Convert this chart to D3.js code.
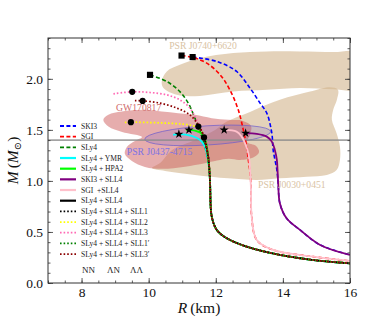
<!DOCTYPE html>
<html>
<head>
<meta charset="utf-8">
<script src="https://cdn.jsdelivr.net/npm/d3@7/dist/d3.min.js"></script>
<style>
    body { margin: 0; background: #fff; }
    svg text { font-family: "Liberation Serif", "DejaVu Serif", serif; }
</style>
</head>
<body>
<script>
// ---- axis ticks ----
var xTicks = [ 8, 10, 12, 14, 16 ];
var yTicks = [ 0.0, 0.5, 1.0, 1.5, 2.0 ];

// ---- M-R curves (R in km, M in Msun) ----
var ski3R = [ 11.31, 12.03, 12.62, 13.02, 13.32, 13.52, 13.67, 13.71, 13.82, 13.86, 13.91, 14.11, 14.51, 15.11, 16.0 ];
var ski3M = [ 2.213, 2.170, 2.072, 1.909, 1.762, 1.664, 1.468, 1.304, 1.108, 0.977, 0.781, 0.634, 0.520, 0.373, 0.275 ];

var sgiR = [ 10.98, 11.31, 11.73, 12.13, 12.42, 12.67, 12.82, 12.92, 12.97, 13.03, 13.05, 13.07, 13.22, 13.71, 14.91, 16.0 ];
var sgiM = [ 2.228, 2.210, 2.154, 2.039, 1.892, 1.696, 1.500, 1.336, 1.206, 1.059, 0.912, 0.650, 0.422, 0.324, 0.258, 0.216 ];

var sly4R = [ 10.04, 10.54, 10.93, 11.18, 11.36, 11.48, 11.58, 11.68, 11.75, 11.81, 11.83, 11.88, 12.03, 12.33, 12.92, 13.91, 14.91, 16.0 ];
var sly4M = [ 2.039, 1.974, 1.875, 1.762, 1.630, 1.532, 1.434, 1.333, 1.225, 1.108, 0.980, 0.650, 0.520, 0.438, 0.356, 0.275, 0.225, 0.193 ];

var ymrR = [ 10.73, 10.90, 11.28, 11.53, 11.68, 11.73, 11.78, 11.81, 11.83, 11.88, 12.03, 12.33, 12.92, 13.91, 14.91, 16.0 ];
var ymrM = [ 1.451, 1.458, 1.441, 1.402, 1.336, 1.272, 1.176, 1.088, 0.980, 0.650, 0.520, 0.438, 0.356, 0.275, 0.225, 0.193 ];

var hpa2R = [ 11.12, 11.20, 11.38, 11.56, 11.66, 11.73, 11.77, 11.81, 11.83, 11.88, 12.03, 12.33, 12.92, 13.91, 14.91, 16.0 ];
var hpa2M = [ 1.495, 1.500, 1.493, 1.468, 1.419, 1.353, 1.225, 1.108, 0.980, 0.650, 0.520, 0.438, 0.356, 0.275, 0.225, 0.193 ];

var ski3SllR = [ 12.89, 13.22, 13.52, 13.67, 13.76, 13.82, 13.84, 13.86, 13.91, 14.11, 14.51, 15.11, 16.0 ];
var ski3SllM = [ 1.468, 1.461, 1.434, 1.385, 1.304, 1.206, 1.108, 0.977, 0.781, 0.634, 0.520, 0.373, 0.275 ];

var sgiSllR = [ 12.25, 12.62, 12.77, 12.87, 12.97, 13.00, 13.03, 13.05, 13.07, 13.22, 13.71, 14.91, 16.0 ];
var sgiSllM = [ 1.500, 1.483, 1.434, 1.370, 1.272, 1.206, 1.059, 0.912, 0.650, 0.422, 0.324, 0.258, 0.216 ];

var sly4SllR = [ 11.65, 11.69, 11.74, 11.78, 11.81, 11.83, 11.88, 12.03, 12.33, 12.92, 13.91, 14.91, 16.0 ];
var sly4SllM = [ 1.426, 1.382, 1.304, 1.225, 1.108, 0.980, 0.650, 0.520, 0.438, 0.356, 0.275, 0.225, 0.193 ];

var sll1R = [ 11.48, 11.59, 11.66, 11.72, 11.78, 11.81, 11.83, 11.88, 12.03, 12.33, 12.92, 13.91, 14.91, 16.0 ];
var sll1M = [ 1.532, 1.480, 1.402, 1.324, 1.225, 1.108, 0.980, 0.650, 0.520, 0.438, 0.356, 0.275, 0.225, 0.193 ];

var sll2R = [ 9.29, 9.47, 10.04, 10.54, 11.03, 11.33, 11.50, 11.62, 11.69, 11.75, 11.80, 11.83, 11.88, 12.03, 12.33, 12.92, 13.91, 14.91, 16.0 ];
var sll2M = [ 1.572, 1.575, 1.572, 1.566, 1.556, 1.539, 1.510, 1.461, 1.382, 1.284, 1.157, 0.980, 0.650, 0.520, 0.438, 0.356, 0.275, 0.225, 0.193 ];

var sll3R = [ 8.95, 9.51, 10.04, 10.54, 10.93, 11.23, 11.43, 11.53, 11.62, 11.69, 11.75, 11.80, 11.83, 11.88, 12.03, 12.33, 12.92, 13.91, 14.91, 16.0 ];
var sll3M = [ 1.853, 1.873, 1.866, 1.843, 1.794, 1.713, 1.598, 1.532, 1.461, 1.382, 1.284, 1.157, 0.980, 0.650, 0.520, 0.438, 0.356, 0.275, 0.225, 0.193 ];

var sll1pR = [ 11.47, 11.58, 11.66, 11.72, 11.78, 11.81, 11.83, 11.88, 12.03, 12.33, 12.92, 13.91, 14.91, 16.0 ];
var sll1pM = [ 1.540, 1.485, 1.405, 1.326, 1.225, 1.108, 0.980, 0.650, 0.520, 0.438, 0.356, 0.275, 0.225, 0.193 ];

var sll3pR = [ 9.59, 9.82, 10.34, 10.84, 11.23, 11.48, 11.59, 11.68, 11.75, 11.80, 11.83, 11.88, 12.03, 12.33, 12.92, 13.91, 14.91, 16.0 ];
var sll3pM = [ 1.787, 1.784, 1.762, 1.713, 1.647, 1.549, 1.480, 1.392, 1.284, 1.157, 0.980, 0.650, 0.520, 0.438, 0.356, 0.275, 0.225, 0.193 ];

// ---- maximum-mass markers ----
var squareR = [ 10.98, 11.31, 10.04 ];
var squareM = [ 2.228, 2.213, 2.039 ];
var starR = [ 10.90, 11.20, 12.25, 12.89 ];
var starM = [ 1.458, 1.500, 1.500, 1.468 ];
var dotR = [ 9.51, 9.82, 9.47, 11.48, 11.65 ];
var dotM = [ 1.873, 1.784, 1.575, 1.532, 1.426 ];

// ---- observational constraints ----
var j0740R = [ 10.39, 10.54, 10.93, 11.53, 12.52, 13.52, 14.51, 15.50, 16.30, 16.30, 15.50, 14.51, 13.52, 12.52, 11.53, 10.84, 10.44 ];
var j0740M = [ 1.974, 2.072, 2.137, 2.203, 2.252, 2.268, 2.268, 2.262, 2.252, 1.902, 1.897, 1.909, 1.892, 1.875, 1.833, 1.843, 1.909 ];

var j0030R = [ 10.10, 10.34, 10.70, 11.38, 11.98, 12.33, 13.02, 13.91, 14.81, 15.40, 15.64, 15.61, 15.50, 15.46, 15.60, 15.70, 15.70, 15.60, 15.31, 14.71, 13.91, 13.22, 12.37, 11.38, 10.49 ];
var j0030M = [ 1.127, 1.176, 1.304, 1.402, 1.500, 1.581, 1.676, 1.794, 1.875, 1.917, 1.892, 1.794, 1.696, 1.598, 1.468, 1.336, 1.206, 1.108, 1.059, 1.042, 1.026, 1.010, 1.026, 1.059, 1.098 ];

var gwR = [ 8.65, 8.80, 9.20, 9.89, 10.39, 10.88, 11.38, 11.88, 12.37, 12.81, 13.05, 13.02, 12.93, 13.20, 13.29, 13.14, 12.72, 12.37, 11.68, 11.08, 10.40, 9.89, 9.50, 9.29, 9.35, 9.59, 9.80, 9.21, 8.80 ];
var gwM = [ 1.598, 1.647, 1.679, 1.696, 1.679, 1.664, 1.647, 1.615, 1.598, 1.588, 1.539, 1.451, 1.382, 1.343, 1.284, 1.235, 1.206, 1.216, 1.174, 1.140, 1.118, 1.137, 1.196, 1.265, 1.333, 1.392, 1.431, 1.480, 1.532 ];

// J0437-4715 ellipse: centre, semi-axes (km, Msun), tilt in degrees
var j0437Centre = [ 11.76, 1.446 ];
var j0437Axes = [ 1.88, 0.094 ];
var j0437Tilt = -3.5;

var refMass = 1.4;

var legendNames = [ "SKI3", "SGI", "SLy4", "SLy4 + YMR", "SLy4 + HPA2", "SKI3 + SLL4", "SGI  +SLL4", "SLy4 + SLL4",
    "SLy4 + SLL4 + SLL1", "SLy4 + SLL4 + SLL2", "SLy4 + SLL4 + SLL3", "SLy4 + SLL4 + SLL1\u2032", "SLy4 + SLL4 + SLL3\u2032" ];

var Chart = function() {
    var svg, plot, x, y;
    var left = 48, right = 350, top = 38, bottom = 283;

    var styles = {
        dashed: { width: 1.6, dash: "4,2.4" },
        solid:  { width: 1.8, dash: null },
        dotted: { width: 1.7, dash: "1.6,2.0" }
    };

    var series = [
        { r: ski3R,    m: ski3M,    color: "#0000ff", style: "dashed" },
        { r: sgiR,     m: sgiM,     color: "#ff0000", style: "dashed" },
        { r: sly4R,    m: sly4M,    color: "#008000", style: "dashed" },
        { r: ymrR,     m: ymrM,     color: "#00ffff", style: "solid" },
        { r: hpa2R,    m: hpa2M,    color: "#00ff00", style: "solid" },
        { r: ski3SllR, m: ski3SllM, color: "#800080", style: "solid" },
        { r: sgiSllR,  m: sgiSllM,  color: "#ffc0cb", style: "solid" },
        { r: sly4SllR, m: sly4SllM, color: "#000000", style: "solid" },
        { r: sll1R,    m: sll1M,    color: "#000000", style: "dotted" },
        { r: sll2R,    m: sll2M,    color: "#ffff00", style: "dotted" },
        { r: sll3R,    m: sll3M,    color: "#ff69b4", style: "dotted" },
        { r: sll1pR,   m: sll1pM,   color: "#008000", style: "dotted" },
        { r: sll3pR,   m: sll3pM,   color: "#8b0000", style: "dotted" }
    ];

    function init() {
        svg = d3.select( "body" ).append( "svg" ).attr( "width", 389 ).attr( "height", 324 );
        x = d3.scaleLinear().domain( [ 7, 16 ] ).range( [ left, right ] );
        y = d3.scaleLinear().domain( [ 0, 2.4 ] ).range( [ bottom, top ] );

        svg.append( "clipPath" ).attr( "id", "clip" )
            .append( "rect" ).attr( "x", left ).attr( "y", top )
            .attr( "width", right - left ).attr( "height", bottom - top );
        plot = svg.append( "g" ).attr( "clip-path", "url(#clip)" );

        drawRegions();
        drawRefLine();
        drawCurves();
        drawMarkers();
        drawRegionLabels();
        drawAxes();
        drawLegend();
    }

    function pairs( rs, ms ) {
        return rs.map( function( r, i ) { return [ r, ms[ i ] ]; } );
    }

    function drawRegions() {
        var area = d3.line()
            .x( function( d ) { return x( d[ 0 ] ); } )
            .y( function( d ) { return y( d[ 1 ] ); } )
            .curve( d3.curveCatmullRomClosed.alpha( 0.5 ) );

        plot.append( "path" ).attr( "d", area( pairs( j0740R, j0740M ) ) )
            .attr( "fill", "#d2b48c" ).attr( "fill-opacity", 0.6 );
        plot.append( "path" ).attr( "d", area( pairs( j0030R, j0030M ) ) )
            .attr( "fill", "#d2b48c" ).attr( "fill-opacity", 0.6 );
        plot.append( "path" ).attr( "d", area( pairs( gwR, gwM ) ) )
            .attr( "fill", "#cd5c5c" ).attr( "fill-opacity", 0.5 );

        var cx = x( j0437Centre[ 0 ] ), cy = y( j0437Centre[ 1 ] );
        plot.append( "ellipse" )
            .attr( "cx", cx ).attr( "cy", cy )
            .attr( "rx", x( j0437Centre[ 0 ] + j0437Axes[ 0 ] ) - cx )
            .attr( "ry", cy - y( j0437Centre[ 1 ] + j0437Axes[ 1 ] ) )
            .attr( "transform", "rotate(" + j0437Tilt + "," + cx + "," + cy + ")" )
            .attr( "fill", "#6a5acd" ).attr( "fill-opacity", 0.2 )
            .attr( "stroke", "#6a5acd" ).attr( "stroke-opacity", 0.85 ).attr( "stroke-width", 0.8 );
    }

    function drawRefLine() {
        plot.append( "line" )
            .attr( "x1", left ).attr( "x2", right )
            .attr( "y1", y( refMass ) ).attr( "y2", y( refMass ) )
            .attr( "stroke", "#8c8c8c" ).attr( "stroke-opacity", 0.8 ).attr( "stroke-width", 1.8 );
    }

    function drawCurves() {
        var line = d3.line()
            .x( function( d ) { return x( d[ 0 ] ); } )
            .y( function( d ) { return y( d[ 1 ] ); } )
            .curve( d3.curveCatmullRom.alpha( 0.5 ) );

        series.forEach( function( s ) {
            var st = styles[ s.style ];
            plot.append( "path" )
                .attr( "d", line( pairs( s.r, s.m ) ) )
                .attr( "fill", "none" )
                .attr( "stroke", s.color )
                .attr( "stroke-width", st.width )
                .attr( "stroke-dasharray", st.dash );
        });
    }

    function drawMarkers() {
        var g = plot.append( "g" ).attr( "fill", "#000" );

        g.selectAll( ".sq" ).data( pairs( squareR, squareM ) ).enter()
            .append( "path" )
            .attr( "d", d3.symbol( d3.symbolSquare, 38 ) )
            .attr( "transform", function( d ) { return "translate(" + x( d[ 0 ] ) + "," + y( d[ 1 ] ) + ")"; } );

        g.selectAll( ".st" ).data( pairs( starR, starM ) ).enter()
            .append( "path" )
            .attr( "d", d3.symbol( d3.symbolStar, 26 ) )
            .attr( "transform", function( d ) { return "translate(" + x( d[ 0 ] ) + "," + y( d[ 1 ] ) + ")"; } );

        g.selectAll( "circle" ).data( pairs( dotR, dotM ) ).enter()
            .append( "circle" )
            .attr( "r", 3.1 )
            .attr( "cx", function( d ) { return x( d[ 0 ] ); } )
            .attr( "cy", function( d ) { return y( d[ 1 ] ); } );
    }

    function drawRegionLabels() {
        var labels = [
            { text: "PSR J0740+6620", r: 10.61, m: 2.29,  color: "#d9c3a4" },
            { text: "GW170817",       r: 9.03,  m: 1.683, color: "#d06b6b" },
            { text: "PSR J0437-4715", r: 9.35,  m: 1.255, color: "#7d72e4" },
            { text: "PSR J0030+0451", r: 13.26, m: 0.935, color: "#d9c3a4" }
        ];
        svg.selectAll( ".rlab" ).data( labels ).enter()
            .append( "text" )
            .attr( "x", function( d ) { return x( d.r ); } )
            .attr( "y", function( d ) { return y( d.m ); } )
            .attr( "fill", function( d ) { return d.color; } )
            .style( "font-size", "9.7px" )
            .text( function( d ) { return d.text; } );
    }

    function drawAxes() {
        var xMinor = d3.range( 7, 16.01, 0.5 );
        var yMinor = d3.range( 0, 2.401, 0.1 );
        var g = svg.append( "g" ).attr( "class", "axes" );

        function put( axis, tr ) {
            var a = g.append( "g" ).attr( "transform", tr ).call( axis );
            a.attr( "font-family", null );
            a.select( ".domain" ).remove();
            a.selectAll( "line" ).attr( "stroke", "#333" ).attr( "stroke-width", 0.8 );
            a.selectAll( "text" ).attr( "fill", "#111" ).style( "font-size", "13.5px" )
                .style( "font-family", "'Liberation Serif', 'DejaVu Serif', serif" );
            return a;
        }

        put( d3.axisBottom( x ).tickValues( xMinor ).tickSize( -2.5 ).tickFormat( "" ), "translate(0," + bottom + ")" );
        put( d3.axisTop( x ).tickValues( xMinor ).tickSize( -2.5 ).tickFormat( "" ), "translate(0," + top + ")" );
        put( d3.axisBottom( x ).tickValues( xTicks ).tickSize( -5 ).tickPadding( 4 ).tickFormat( d3.format( "d" ) ), "translate(0," + bottom + ")" );
        put( d3.axisTop( x ).tickValues( xTicks ).tickSize( -5 ).tickFormat( "" ), "translate(0," + top + ")" );

        put( d3.axisLeft( y ).tickValues( yMinor ).tickSize( -2.5 ).tickFormat( "" ), "translate(" + left + ",0)" );
        put( d3.axisRight( y ).tickValues( yMinor ).tickSize( -2.5 ).tickFormat( "" ), "translate(" + right + ",0)" );
        put( d3.axisLeft( y ).tickValues( yTicks ).tickSize( -5 ).tickPadding( 5 ).tickFormat( d3.format( ".1f" ) ), "translate(" + left + ",0)" );
        put( d3.axisRight( y ).tickValues( yTicks ).tickSize( -5 ).tickFormat( "" ), "translate(" + right + ",0)" );

        svg.append( "rect" )
            .attr( "x", left ).attr( "y", top )
            .attr( "width", right - left ).attr( "height", bottom - top )
            .attr( "fill", "none" ).attr( "stroke", "#333" ).attr( "stroke-width", 1 );

        var xl = svg.append( "text" )
            .attr( "x", ( left + right ) / 2 ).attr( "y", 313 )
            .attr( "text-anchor", "middle" ).style( "font-size", "15.5px" ).attr( "fill", "#111" );
        xl.append( "tspan" ).style( "font-style", "italic" ).text( "R" );
        xl.append( "tspan" ).text( "\u2009(km)" );

        var yl = svg.append( "text" )
            .attr( "transform", "translate(18," + ( ( top + bottom ) / 2 ) + ") rotate(-90)" )
            .attr( "text-anchor", "middle" ).style( "font-size", "15.5px" ).attr( "fill", "#111" );
        yl.append( "tspan" ).style( "font-style", "italic" ).text( "M" );
        yl.append( "tspan" ).text( "\u2009(" );
        yl.append( "tspan" ).style( "font-style", "italic" ).text( "M" );
        yl.append( "tspan" ).attr( "dy", 3 ).style( "font-size", "10px" ).text( "\u2299" );
        yl.append( "tspan" ).attr( "dy", -3 ).text( ")" );
    }

    function drawLegend() {
        var row0 = 126, step = 10.67;
        var g = svg.append( "g" ).attr( "class", "legend" );

        series.forEach( function( s, i ) {
            var st = styles[ s.style ], yy = row0 + i * step;
            g.append( "line" )
                .attr( "x1", 60 ).attr( "x2", 76 ).attr( "y1", yy ).attr( "y2", yy )
                .attr( "stroke", s.color ).attr( "stroke-width", s.style === "solid" ? 2.2 : 1.8 )
                .attr( "stroke-dasharray", st.dash );
            g.append( "text" )
                .attr( "x", 81 ).attr( "y", yy ).attr( "dy", "0.33em" )
                .style( "font-size", "7.6px" ).style( "white-space", "pre" )
                .attr( "fill", "#222" )
                .text( legendNames[ i ] );
        });

        var heads = [ "NN", "\u039BN", "\u039B\u039B" ], hx = [ 82, 107, 130 ];
        g.selectAll( ".head" ).data( heads ).enter()
            .append( "text" )
            .attr( "x", function( d, i ) { return hx[ i ]; } )
            .attr( "y", 272.5 )
            .style( "font-size", "9px" ).attr( "fill", "#222" )
            .text( function( d ) { return d; } );
    }

    init();
};

Chart();
</script>
</body>
</html>
